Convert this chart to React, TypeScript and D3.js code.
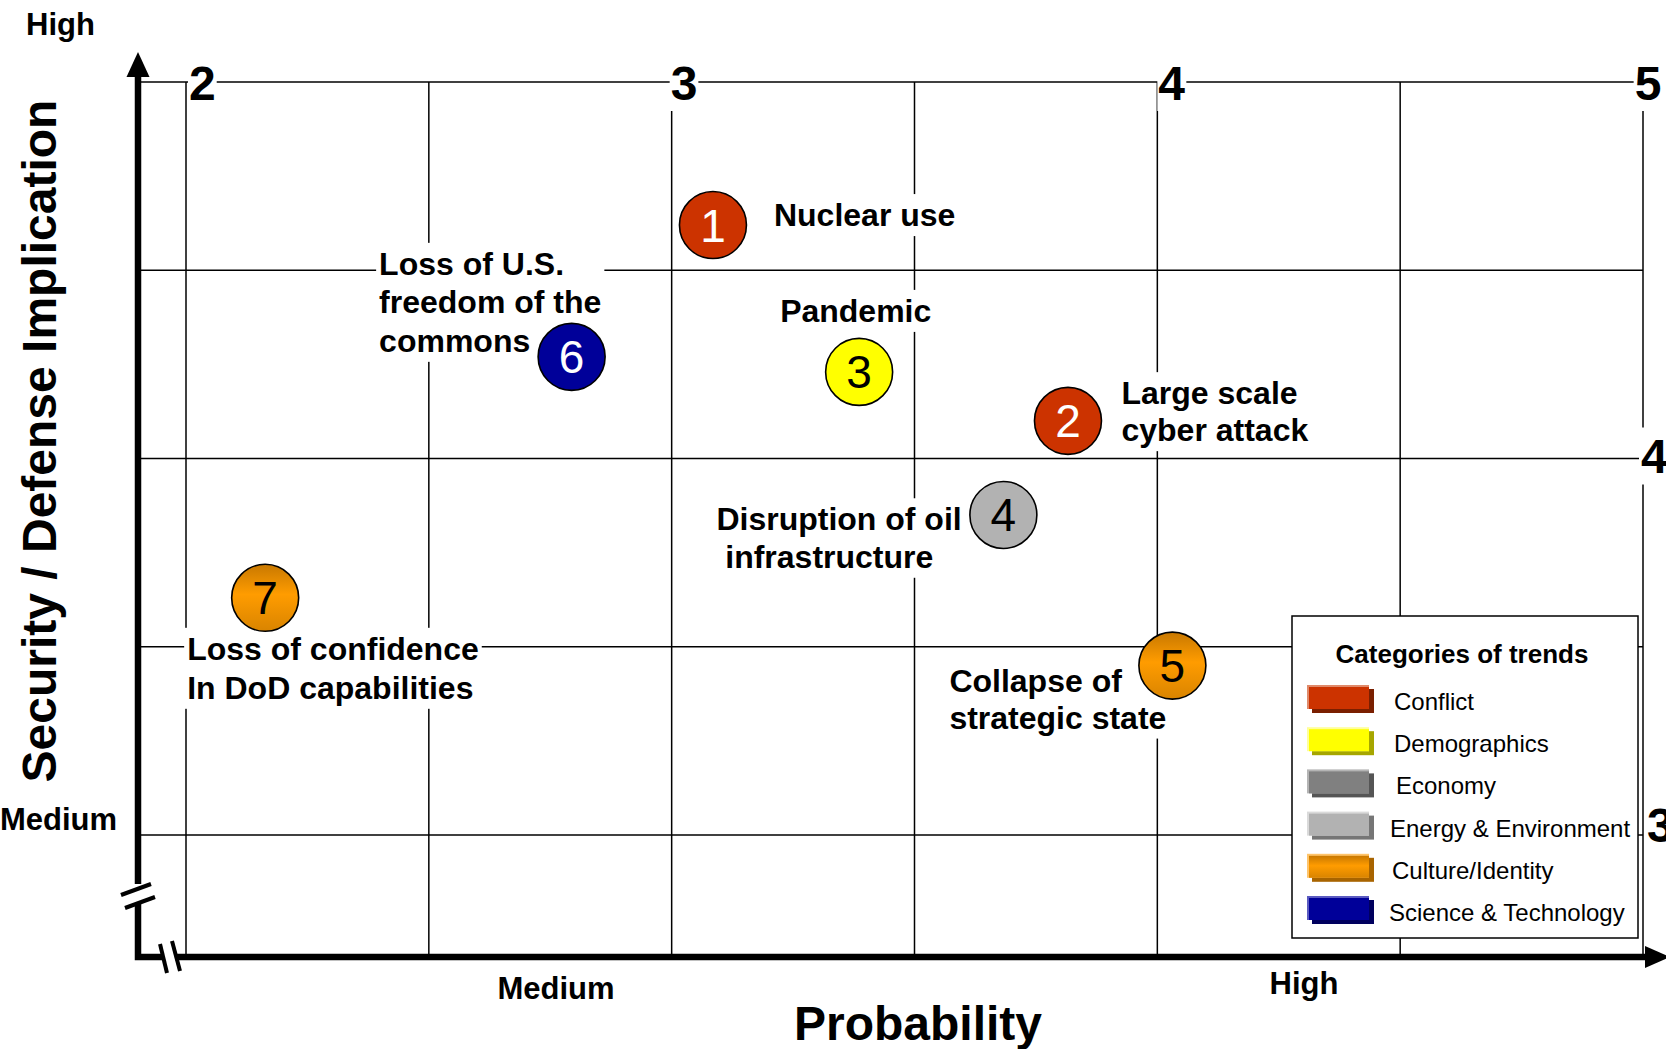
import React, { useEffect, useRef } from 'react';
import * as d3 from 'd3';

// ---- data ----
const trendIds = [1, 2, 3, 4, 5, 6, 7];
const trendProbability = [3.085, 3.816, 3.386, 3.683, 4.031, 2.794, 2.163];
const trendImplication = [4.62, 4.10, 4.23, 3.85, 3.45, 4.27, 3.63];
const trendCategory = [
  'Conflict',
  'Conflict',
  'Demographics',
  'Energy & Environment',
  'Culture/Identity',
  'Science & Technology',
  'Culture/Identity',
];
const trendLabels = [
  ['Nuclear use'],
  ['Large scale', 'cyber attack'],
  ['Pandemic'],
  ['Disruption of oil', ' infrastructure'],
  ['Collapse of', 'strategic state'],
  ['Loss of U.S.', 'freedom of the', 'commons'],
  ['Loss of confidence', 'In DoD capabilities'],
];
const categories = [
  'Conflict',
  'Demographics',
  'Economy',
  'Energy & Environment',
  'Culture/Identity',
  'Science & Technology',
];
const xTickValues = [2, 3, 4, 5];
const yTickValues = [4, 3];
const legendTitle = 'Categories of trends';
const xTitle = 'Probability';
const yTitle = 'Security / Defense Implication';

// ---- styles / layout ----
const categoryFill = ['#CC3300', '#FFFF00', '#808080', '#B2B2B2', '#FF9900', '#000099'];
const categoryShadow = ['#7A1F00', '#A6A600', '#555555', '#767676', '#A86400', '#00005E'];
const categoryLight = ['#E08A6A', '#FFFF99', '#B4B4B4', '#DADADA', '#FFC46A', '#5A5AC0'];
const categoryTextColor = ['#fff', '#000', '#000', '#000', '#000', '#fff'];
// label anchor offset (px) from each bubble centre, in trendIds order
const labelOffsets: [number, number][] = [
  [61, 1],
  [53.5, -16.7],
  [-79, -50],
  [-287, 15.3],
  [-223, 26],
  [-192.5, -82],
  [-78, 62],
];
const labelLineHeights = [38, 37, 38, 37.5, 37, 38.5, 39];
const xTickDx = [3, -1, 1, 5];
const legendLabelDx = [5, 5, 7, 1, 3, 0];

export default function App() {
  const ref = useRef<SVGSVGElement>(null);

  useEffect(() => {
    document.body.style.margin = '0';
    document.body.style.overflow = 'hidden';
    const W = 1666;
    const H = 1049;
    const font = "'Liberation Sans', Arial, Helvetica, sans-serif";
    const svg = d3.select(ref.current!);
    svg.selectAll('*').remove();

    const x = d3.scaleLinear().domain([2, 5]).range([186, 1643]);
    const y = d3.scaleLinear().domain([3, 5]).range([835, 82]);
    const axisX = 138;
    const axisY = 957;

    svg.append('rect').attr('width', W).attr('height', H).attr('fill', '#fff');

    const defs = svg.append('defs');
    const grad = defs
      .append('linearGradient')
      .attr('id', 'orangeGrad')
      .attr('x1', 0)
      .attr('y1', 0)
      .attr('x2', 0)
      .attr('y2', 1);
    grad.append('stop').attr('offset', '0%').attr('stop-color', '#C87800');
    grad.append('stop').attr('offset', '45%').attr('stop-color', '#FF9C00');
    grad.append('stop').attr('offset', '100%').attr('stop-color', '#D98400');

    const fillFor = (cat: string) => {
      const i = categories.indexOf(cat);
      return cat === 'Culture/Identity' ? 'url(#orangeGrad)' : categoryFill[i];
    };

    // ---- grid ----
    const grid = svg.append('g');
    const gx = d3.range(2, 5.001, 0.5);
    const gy = d3.range(3, 5.001, 0.5);
    grid
      .selectAll('line.v')
      .data(gx)
      .join('line')
      .attr('x1', (d) => x(d))
      .attr('x2', (d) => x(d))
      .attr('y1', y(5))
      .attr('y2', axisY)
      .attr('stroke', '#000')
      .attr('stroke-width', 1.5);
    grid
      .selectAll('line.h')
      .data(gy)
      .join('line')
      .attr('x1', axisX)
      .attr('x2', x(5))
      .attr('y1', (d) => y(d))
      .attr('y2', (d) => y(d))
      .attr('stroke', '#000')
      .attr('stroke-width', 1.5);

    const addBoxed = (
      parent: any,
      lines: string[],
      px: number,
      py: number,
      size: number,
      weight: string,
      anchor: string,
      lineH: number,
      pad: number
    ) => {
      const g = parent.append('g');
      const rect = g.append('rect').attr('fill', '#fff');
      const t = g
        .append('text')
        .attr('font-family', font)
        .attr('font-size', size)
        .attr('font-weight', weight)
        .attr('text-anchor', anchor)
        .attr('fill', '#000')
        .style('white-space', 'pre');
      lines.forEach((ln, i) => {
        t.append('tspan').attr('x', px).attr('y', py + i * lineH).text(ln);
      });
      const bb = (t.node() as SVGTextElement).getBBox();
      rect
        .attr('x', bb.x - pad)
        .attr('y', bb.y - pad)
        .attr('width', bb.width + 2 * pad)
        .attr('height', bb.height + 2 * pad);
      return g;
    };

    // ---- tick labels (top / right) ----
    const ticks = svg.append('g');
    xTickValues.forEach((v, i) => {
      const last = i === xTickValues.length - 1;
      addBoxed(ticks, [String(v)], x(v) + xTickDx[i], y(5) + 18, 48, 'bold', last ? 'middle' : 'start', 0, 1);
    });
    yTickValues.forEach((v) => {
      addBoxed(ticks, [String(v)], x(5) + (v === 3 ? 4 : -2), y(v) + (v === 3 ? 7 : 14), 48, 'bold', 'start', 0, v === 3 ? 0 : 2);
    });

    // ---- trend labels ----
    const labels = svg.append('g');
    trendIds.forEach((id, i) => {
      const cx = x(trendProbability[i]);
      const cy = y(trendImplication[i]);
      const [dx, dy] = labelOffsets[i];
      addBoxed(labels, trendLabels[i], cx + dx, cy + dy, 32, 'bold', 'start', labelLineHeights[i], 3);
    });

    // ---- bubbles ----
    const bubbles = svg
      .append('g')
      .selectAll('g')
      .data(trendIds)
      .join('g')
      .attr('transform', (d, i) => `translate(${x(trendProbability[i])},${y(trendImplication[i])})`);
    bubbles
      .append('circle')
      .attr('r', 33.5)
      .attr('fill', (d, i) => fillFor(trendCategory[i]))
      .attr('stroke', '#000')
      .attr('stroke-width', 1.6);
    bubbles
      .append('text')
      .attr('text-anchor', 'middle')
      .attr('y', 16.5)
      .attr('font-family', font)
      .attr('font-size', 46)
      .attr('fill', (d, i) => categoryTextColor[categories.indexOf(trendCategory[i])])
      .text((d) => String(d));

    // ---- legend ----
    const lg = svg.append('g');
    lg.append('rect')
      .attr('x', 1292)
      .attr('y', 616)
      .attr('width', 346)
      .attr('height', 322)
      .attr('fill', '#fff')
      .attr('stroke', '#000')
      .attr('stroke-width', 1.5);
    lg.append('text')
      .attr('x', 1462)
      .attr('y', 663)
      .attr('text-anchor', 'middle')
      .attr('font-family', font)
      .attr('font-weight', 'bold')
      .attr('font-size', 26)
      .text(legendTitle);
    const rowY = d3.scaleLinear().domain([0, categories.length - 1]).range([685, 896]);
    categories.forEach((c, i) => {
      const ry = rowY(i);
      const sx = 1307;
      const sw = 62;
      const sh = 24;
      lg.append('rect').attr('x', sx + 5).attr('y', ry + 4).attr('width', sw).attr('height', sh).attr('fill', categoryShadow[i]);
      lg.append('rect').attr('x', sx).attr('y', ry).attr('width', sw).attr('height', sh).attr('fill', categoryLight[i]);
      lg.append('rect')
        .attr('x', sx + 2)
        .attr('y', ry + 2)
        .attr('width', sw - 2)
        .attr('height', sh - 2)
        .attr('fill', c === 'Culture/Identity' ? 'url(#orangeGrad)' : categoryFill[i]);
      lg.append('text')
        .attr('x', 1389 + legendLabelDx[i])
        .attr('y', ry + 25)
        .attr('font-family', font)
        .attr('font-size', 24)
        .text(c);
    });

    // ---- axes ----
    const ax = svg.append('g');
    const axW = 6.5;
    ax.append('line').attr('x1', axisX).attr('x2', axisX).attr('y1', 72).attr('y2', 884).attr('stroke', '#000').attr('stroke-width', axW);
    ax.append('path')
      .attr('d', `M${axisX},903 V${axisY} H163`)
      .attr('fill', 'none')
      .attr('stroke', '#000')
      .attr('stroke-width', axW)
      .attr('stroke-linejoin', 'miter');
    ax.append('line').attr('x1', 175).attr('x2', 1650).attr('y1', axisY).attr('y2', axisY).attr('stroke', '#000').attr('stroke-width', axW);
    ax.append('polygon').attr('points', `${axisX},52 ${axisX - 11.5},77 ${axisX + 11.5},77`).attr('fill', '#000');
    ax.append('polygon').attr('points', `1645,946 1670,${axisY} 1645,968`).attr('fill', '#000');
    const slashes: [number, number, number, number][] = [
      [121, 895, 151, 884],
      [125, 908, 155, 897],
      [160, 944, 167, 973],
      [172, 941, 180, 971],
    ];
    slashes.forEach(([x1, y1, x2, y2]) =>
      ax.append('line').attr('x1', x1).attr('y1', y1).attr('x2', x2).attr('y2', y2).attr('stroke', '#000').attr('stroke-width', 4)
    );

    // ---- axis labels ----
    const al = svg.append('g').attr('font-family', font).attr('font-weight', 'bold');
    al.append('text').attr('x', 26).attr('y', 35).attr('font-size', 31).text('High');
    al.append('text').attr('x', 0).attr('y', 830).attr('font-size', 31).text('Medium');
    al.append('text').attr('x', 556).attr('y', 999).attr('text-anchor', 'middle').attr('font-size', 31).text('Medium');
    al.append('text').attr('x', 1304).attr('y', 994).attr('text-anchor', 'middle').attr('font-size', 31).text('High');
    al.append('text').attr('x', 918).attr('y', 1040).attr('text-anchor', 'middle').attr('font-size', 48).text(xTitle);
    al.append('text')
      .attr('transform', 'translate(56,441) rotate(-90)')
      .attr('text-anchor', 'middle')
      .attr('font-size', 48)
      .text(yTitle);
  }, []);

  return (
    <svg
      ref={ref}
      width={1666}
      height={1049}
      style={{ position: 'absolute', left: 0, top: 0, display: 'block' }}
    />
  );
}
